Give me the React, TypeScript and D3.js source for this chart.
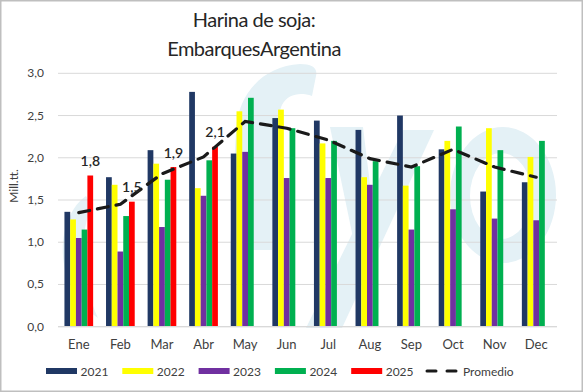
import React from "react";
import * as d3 from "d3";

const months = ["Ene", "Feb", "Mar", "Abr", "May", "Jun", "Jul", "Aug", "Sep", "Oct", "Nov", "Dec"];
const years = ["2021", "2022", "2023", "2024", "2025"];
const v2021 = [1.36, 1.77, 2.09, 2.78, 2.05, 2.47, 2.44, 2.33, 2.5, 2.1, 1.6, 1.71];
const v2022 = [1.27, 1.68, 1.93, 1.64, 2.55, 2.57, 2.17, 1.77, 1.67, 2.2, 2.35, 2.01];
const v2023 = [1.05, 0.89, 1.18, 1.55, 2.07, 1.76, 1.76, 1.68, 1.15, 1.39, 1.28, 1.26];
const v2024 = [1.15, 1.31, 1.74, 1.97, 2.71, 2.35, 2.2, 1.96, 1.9, 2.37, 2.09, 2.2];
const v2025: (number | null)[] = [1.79, 1.48, 1.89, 2.13, null, null, null, null, null, null, null, null];
const promedio = [1.35, 1.45, 1.81, 2.01, 2.43, 2.35, 2.21, 1.99, 1.89, 2.1, 1.89, 1.77];
const yTicks = [0, 0.5, 1, 1.5, 2, 2.5, 3];
const colors = ["#203864", "#ffff00", "#7030a0", "#00b050", "#ff0000"];
const seriesValues = [v2021, v2022, v2023, v2024, v2025];

const W = 583;
const H = 392;
const FONT = "Lato, 'Open Sans', sans-serif";

export default function App() {
  const x0 = d3.scaleBand<string>().domain(months).range([58, 557]).paddingInner(0.31).paddingOuter(0.155);
  const x1 = d3.scaleBand<string>().domain(years).range([0, x0.bandwidth()]);
  const y = d3.scaleLinear().domain([0, 3]).range([326.7, 73.3]);
  const fmt = (v: number) => d3.format(".1f")(v).replace(".", ",");

  const line = d3
    .line<number>()
    .x((_, i) => (x0(months[i]) as number) + x0.bandwidth() / 2)
    .y((d) => y(d));

  const wm = "#e4f1f6";

  return (
    <svg width={W} height={H} style={{ position: "absolute", left: 0, top: 0, background: "#fff" }} fontFamily={FONT}>
      <rect x={0} y={0} width={W} height={H} fill="#fff" />
      {/* watermark */}
      <g fill={wm}>
        <path d="M 86 196 C 58 215, 48 282, 98 318 C 84 288, 76 240, 92 206 Z" />
        <path d="M 230 250 L 236 130 C 238 95, 262 66, 300 64 C 312 64, 318 68, 316 76 L 312 96 C 300 92, 288 94, 282 105 C 276 118, 275 150, 272 250 Z" />
        <path d="M 330 127 L 363 127 L 378 250 L 356 252 Z" />
        <path d="M 403 130 L 434 130 L 342 328 L 306 328 Z" />
        <path
          fillRule="evenodd"
          d="M 450 195 A 53 68 0 1 0 556 195 A 53 68 0 1 0 450 195 Z M 470 196 A 31 43 0 1 1 532 196 A 31 43 0 1 1 470 196 Z"
        />
      </g>
      {/* border */}
      <rect x={0.75} y={0.75} width={W - 1.5} height={H - 1.5} fill="none" stroke="#bfbfbf" strokeWidth={1.5} />
      {/* title */}
      <text x={254} y={27} textAnchor="middle" fontSize={20} letterSpacing={-0.5} fill="#262626">
        Harina de soja:
      </text>
      <text x={254} y={56} textAnchor="middle" fontSize={20} letterSpacing={-0.5} wordSpacing={-4} fill="#262626">
        Embarques Argentina
      </text>
      {/* grid */}
      {yTicks.map((t) => (
        <g key={t}>
          <line x1={58} x2={557} y1={y(t)} y2={y(t)} stroke="#d9d9d9" strokeWidth={1} />
          <text x={44} y={y(t) + 4} textAnchor="end" fontSize={12} fill="#404040">
            {fmt(t)}
          </text>
        </g>
      ))}
      <text transform={`translate(18,186) rotate(-90)`} textAnchor="middle" fontSize={12} fill="#404040">
        Mill.tt.
      </text>
      {/* bars */}
      {seriesValues.map((vals, si) => (
        <g key={years[si]} fill={colors[si]}>
          {vals.map((v, mi) =>
            v == null ? null : (
              <rect
                key={mi}
                x={(x0(months[mi]) as number) + (x1(years[si]) as number)}
                y={y(v)}
                width={x1.bandwidth()}
                height={y(0) - y(v)}
              />
            )
          )}
        </g>
      ))}
      {/* axis line */}
      <line x1={58} x2={557} y1={y(0)} y2={y(0)} stroke="#d9d9d9" strokeWidth={1.2} />
      {/* x labels */}
      {months.map((m) => (
        <text key={m} x={(x0(m) as number) + x0.bandwidth() / 2} y={349} textAnchor="middle" fontSize={13} fill="#404040">
          {m}
        </text>
      ))}
      {/* promedio line */}
      <path d={line(promedio) || ""} fill="none" stroke="#1a1a1a" strokeWidth={3.2} strokeDasharray="11,8" strokeLinecap="round" />
      {/* 2025 labels */}
      {v2025.map((v, mi) =>
        v == null ? null : (
          <text
            key={mi}
            x={(x0(months[mi]) as number) + (x1("2025") as number) + x1.bandwidth() / 2}
            y={y(v) - 9.5}
            textAnchor="middle"
            fontSize={14}
            fontWeight={600}
            fill="#262626"
          >
            {fmt(v)}
          </text>
        )
      )}
      {/* legend */}
      {years.map((yr, i) => (
        <g key={yr} transform={`translate(${46 + i * 76.3},0)`}>
          <rect x={0} y={368} width={31} height={6} fill={colors[i]} />
          <text x={34.5} y={375.5} fontSize={12} fill="#404040">
            {yr}
          </text>
        </g>
      ))}
      <g>
        <line x1={427} x2={436} y1={371} y2={371} stroke="#1a1a1a" strokeWidth={3} strokeLinecap="round" />
        <line x1={447} x2={456} y1={371} y2={371} stroke="#1a1a1a" strokeWidth={3} strokeLinecap="round" />
        <text x={463} y={375.5} fontSize={12} fill="#404040">
          Promedio
        </text>
      </g>
    </svg>
  );
}
